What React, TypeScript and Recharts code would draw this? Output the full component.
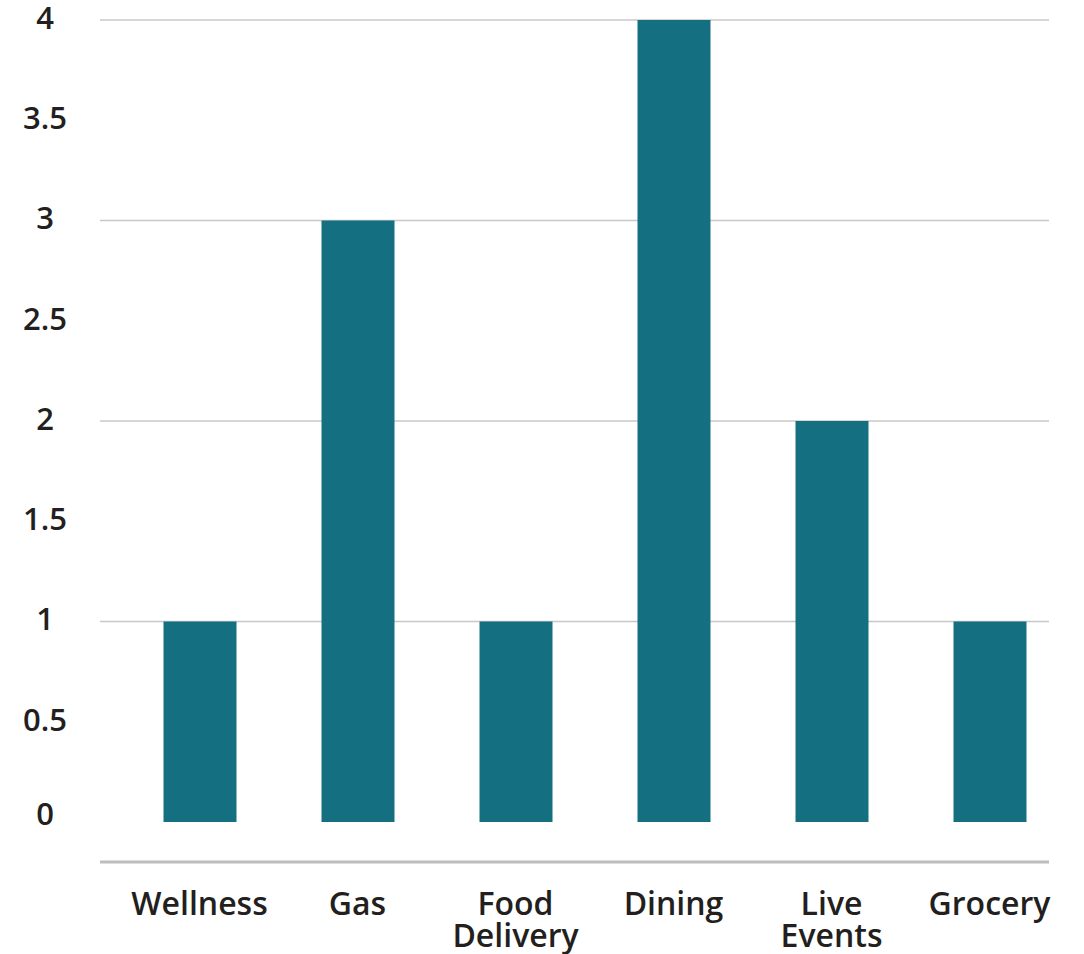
import React from "react";
import { BarChart, Bar, XAxis, YAxis, CartesianGrid } from "recharts";

const categories = ["Wellness", "Gas", "Food Delivery", "Dining", "Live Events", "Grocery"];
const values = [1, 3, 1, 4, 2, 1];
const yTicks = [0, 0.5, 1, 1.5, 2, 2.5, 3, 3.5, 4];
const gridValues = [1, 2, 3, 4];

const data = categories.map((c, i) => ({ name: c, value: values[i] }));

const FONT = "'Open Sans', 'Noto Sans', sans-serif";
const TEXT = "#231f20";

const YTick = (props: any) => {
  const { x, y, payload } = props;
  return (
    <text x={x} y={y} dy={payload.value === 0 ? -9 : -3} textAnchor="middle" dominantBaseline="central"
      fontFamily={FONT} fontSize={31} fontWeight={600} fill={TEXT}>
      {payload.value}
    </text>
  );
};

const XTick = (props: any) => {
  const { x, y, payload } = props;
  const lines = String(payload.value).split(" ");
  return (
    <text x={x} y={y} textAnchor="middle" fontFamily={FONT} fontSize={32} fontWeight={600} fill={TEXT}>
      {lines.map((l, i) => (
        <tspan key={i} x={x} dy={i === 0 ? 0 : 32}>{l}</tspan>
      ))}
    </text>
  );
};

export default function App() {
  return (
    <div style={{ position: "absolute", left: 0, top: 0, width: 1084, height: 954, background: "#fff" }}>
      <BarChart width={1084} height={954} data={data} margin={{ top: 20, right: 35, bottom: 0, left: 0 }} barSize={73}>
        <CartesianGrid vertical={false} horizontalValues={gridValues} stroke="#c8c8c8" strokeWidth={1.5} />
        <XAxis dataKey="name" height={92} axisLine={{ stroke: "#bdbdbd", strokeWidth: 3 }} tickLine={false}
          tickSize={0} tickMargin={53} padding={{ left: 20.5, right: -19.5 }} tick={<XTick />} interval={0} />
        <YAxis type="number" domain={[-0.2, 4]} ticks={yTicks} width={100} axisLine={false} tickLine={false}
          tickSize={0} tickMargin={55} tick={<YTick />} interval={0} allowDecimals />
        <Bar dataKey="value" fill="#146f80" isAnimationActive={false} />
      </BarChart>
    </div>
  );
}
